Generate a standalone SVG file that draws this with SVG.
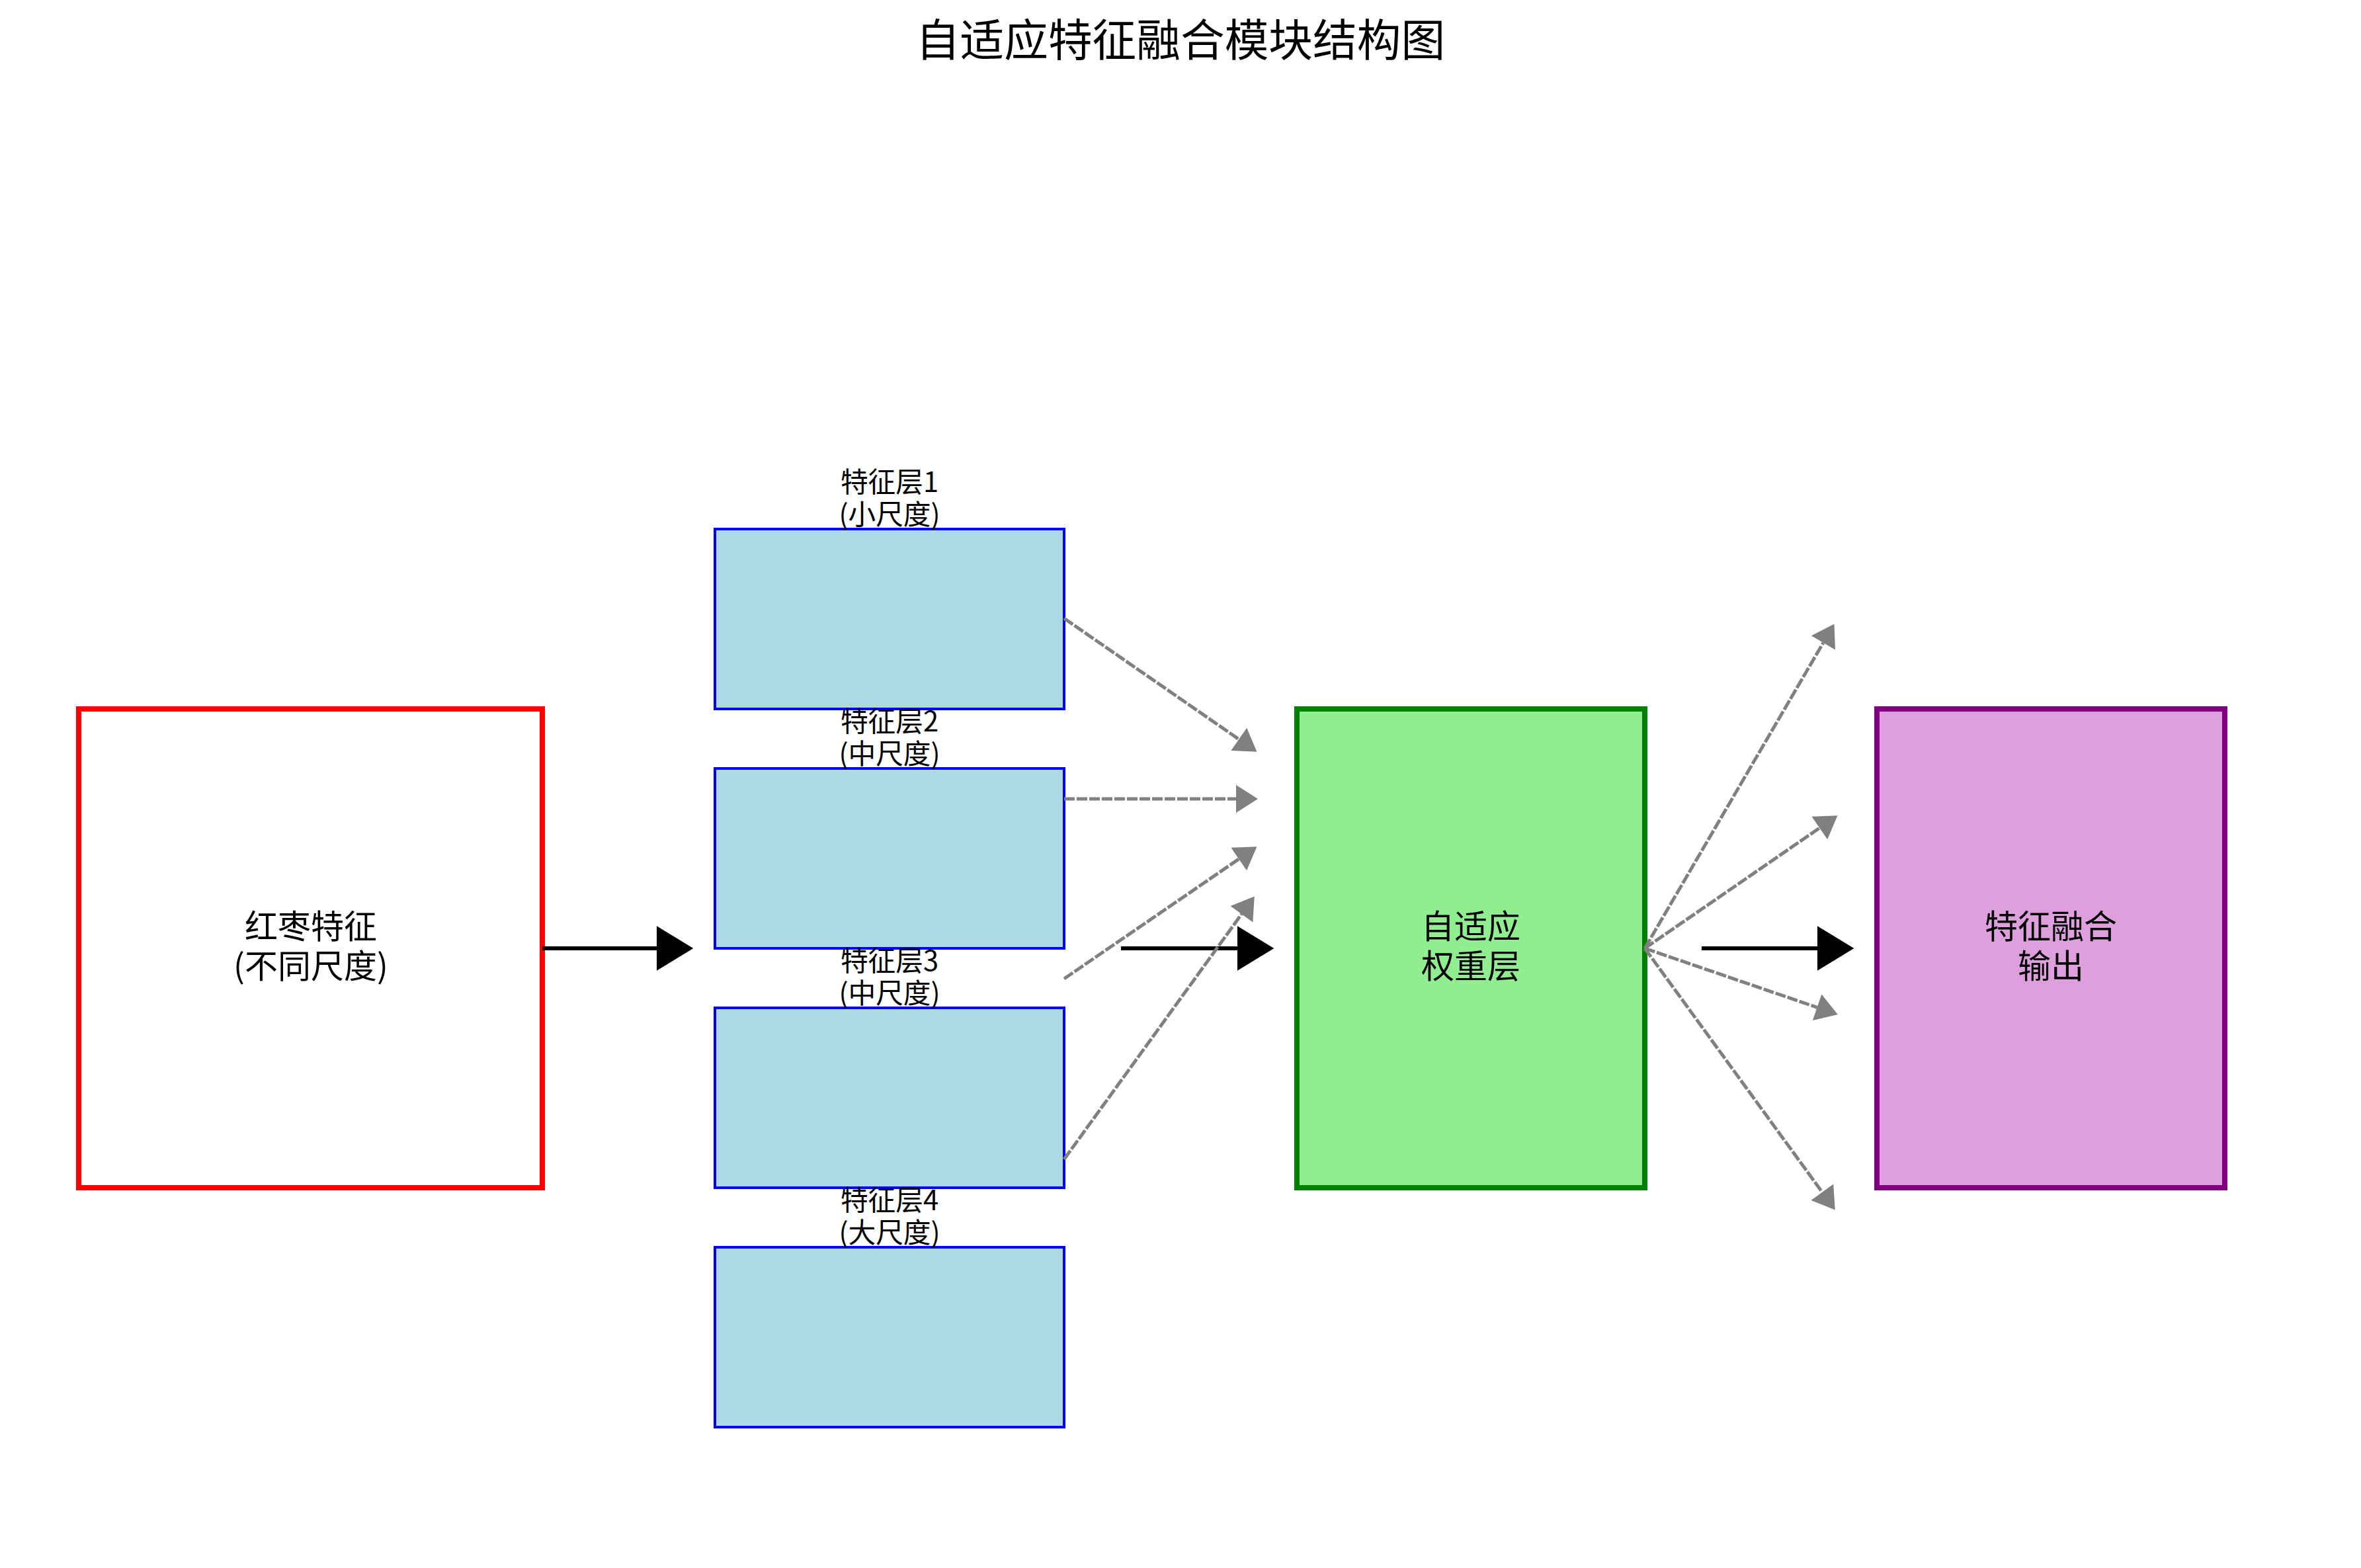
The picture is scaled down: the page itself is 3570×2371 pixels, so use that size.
<svg xmlns="http://www.w3.org/2000/svg" width="3570" height="2371" viewBox="0 0 3570 2371">
  <style>
    text { font-family: "Noto Sans CJK SC", "Noto Sans", sans-serif; fill: #000; text-anchor: middle; }
    .title { font-size: 66.7px; }
    .main { font-size: 50px; }
    .lbl { font-size: 41.7px; }
    .blue { fill: #ADD8E6; stroke: #0000FF; stroke-width: 4; }
    .black { stroke: #000; stroke-width: 6; fill: none; }
    .gray { stroke: #808080; stroke-width: 5; stroke-dasharray: 16 3; fill: none; }
  </style>
  <defs>
    <marker id="hb" markerUnits="userSpaceOnUse" markerWidth="60" markerHeight="70" viewBox="0 -31 50 62" refX="0" refY="0" orient="auto">
      <path d="M0,-30 L49,0 L0,30 z" fill="#000"/>
    </marker>
    <marker id="hg" markerUnits="userSpaceOnUse" markerWidth="40" markerHeight="44" viewBox="0 -20 31 40" refX="0" refY="0" orient="auto">
      <path d="M0,-19 L30,0 L0,19 z" fill="#808080"/>
    </marker>
  </defs>
  <rect width="3570" height="2371" fill="#fff"/>
  <text class="title" x="1785" y="85">自适应特征融合模块结构图</text>

  <g id="input">
    <rect x="119" y="1072" width="701" height="724" fill="#fff" stroke="#FF0000" stroke-width="8"/>
    <text class="main"><tspan x="470" y="1419">红枣特征</tspan><tspan x="470" y="1479">(不同尺度)</tspan></text>
  </g>
  <g id="layer1">
    <rect class="blue" x="1081" y="800" width="528" height="272"/>
    <text class="lbl"><tspan x="1345" y="744">特征层1</tspan><tspan x="1345" y="793">(小尺度)</tspan></text>
  </g>
  <g id="layer2">
    <rect class="blue" x="1081" y="1162" width="528" height="272"/>
    <text class="lbl"><tspan x="1345" y="1106">特征层2</tspan><tspan x="1345" y="1155">(中尺度)</tspan></text>
  </g>
  <g id="layer3">
    <rect class="blue" x="1081" y="1524" width="528" height="272"/>
    <text class="lbl"><tspan x="1345" y="1468">特征层3</tspan><tspan x="1345" y="1517">(中尺度)</tspan></text>
  </g>
  <g id="layer4">
    <rect class="blue" x="1081" y="1886" width="528" height="272"/>
    <text class="lbl"><tspan x="1345" y="1830">特征层4</tspan><tspan x="1345" y="1879">(大尺度)</tspan></text>
  </g>
  <g id="weight">
    <rect x="1961" y="1072" width="526" height="724" fill="#90EE90" stroke="#008000" stroke-width="8"/>
    <text class="main"><tspan x="2224" y="1419">自适应</tspan><tspan x="2224" y="1479">权重层</tspan></text>
  </g>
  <g id="output">
    <rect x="2838" y="1072" width="526" height="724" fill="#DDA0DD" stroke="#800080" stroke-width="8"/>
    <text class="main"><tspan x="3101" y="1419">特征融合</tspan><tspan x="3101" y="1479">输出</tspan></text>
  </g>

  <g id="connectors">
    <line class="black" x1="820" y1="1434" x2="993" y2="1434" marker-end="url(#hb)"/>
    <line class="black" x1="1695" y1="1434" x2="1871" y2="1434" marker-end="url(#hb)"/>
    <line class="black" x1="2573" y1="1434" x2="2748" y2="1434" marker-end="url(#hb)"/>

    <line class="gray" x1="1609" y1="935" x2="1873.3" y2="1117.9" marker-end="url(#hg)"/>
    <line class="gray" x1="1609" y1="1208" x2="1869" y2="1208" marker-end="url(#hg)"/>
    <line class="gray" x1="1609" y1="1480" x2="1873.25" y2="1298.95" marker-end="url(#hg)"/>
    <line class="gray" x1="1609" y1="1753" x2="1877.4" y2="1382.3" marker-end="url(#hg)"/>

    <line class="gray" x1="2487" y1="1434" x2="2756.9" y2="971.9" marker-end="url(#hg)"/>
    <line class="gray" x1="2487" y1="1434" x2="2751.3" y2="1252" marker-end="url(#hg)"/>
    <line class="gray" x1="2487" y1="1434" x2="2747.6" y2="1523.3" marker-end="url(#hg)"/>
    <line class="gray" x1="2487" y1="1434" x2="2755.3" y2="1802.7" marker-end="url(#hg)"/>
  </g>
</svg>
